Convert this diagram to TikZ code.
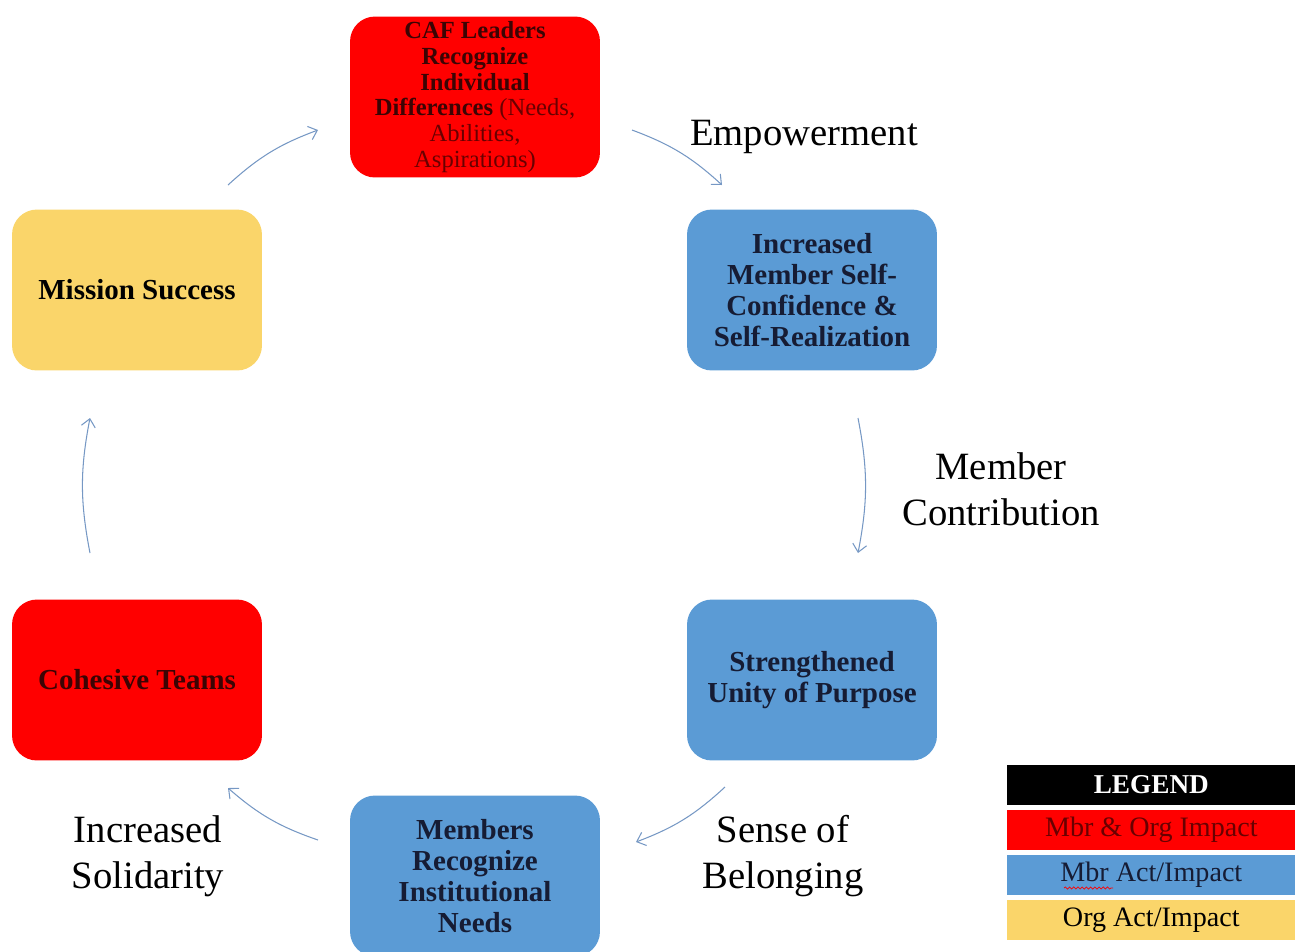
\documentclass[tikz,border=0pt]{standalone}
\usepackage{fontspec}
\setmainfont{Liberation Serif}
\usepackage{tikz}
\usetikzlibrary{arrows.meta,decorations.pathmorphing}

\tikzset{
  cycbox/.style={rounded corners=0.5cm, minimum width=5cm, minimum height=3.22cm, align=center, inner sep=2pt, font=\bfseries\fontsize{16.5}{17.6}\selectfont},
  cycarrow/.style={-{Straight Barb[length=4.5pt,width=8pt]}, color=arrowColor, line width=0.6pt, bend left=11},
  cyclabel/.style={align=center, font=\fontsize{22}{26}\selectfont},
  legrow/.style={minimum width=5.76cm, minimum height=0.8cm, inner sep=0pt, anchor=west, font=\fontsize{16}{18}\selectfont},
  spellmark/.style={color=red, line width=0.4pt, decorate, decoration={snake, amplitude=0.6pt, segment length=2.4pt}},
}

\begin{document}
\begin{tikzpicture}[x=0.02cm,y=-0.02cm]
\useasboundingbox (0,0) rectangle (1295,951);
\definecolor{redColor}{RGB}{255,0,0}
\definecolor{blueColor}{RGB}{91,155,213}
\definecolor{goldColor}{RGB}{250,213,106}
\definecolor{navyText}{RGB}{22,28,52}
\definecolor{darkRedText}{RGB}{60,4,4}
\definecolor{capColor}{RGB}{105,0,0}
\definecolor{arrowColor}{RGB}{118,152,196}
% cycle boxes
\node[cycbox, fill=redColor, text=darkRedText, font=\bfseries\fontsize{14}{14.7}\selectfont] (caf) at (475,97)
  {CAF Leaders\\ Recognize\\ Individual\\ Differences \textmd{\textcolor{capColor}{(Needs,}}\\ \textmd{\textcolor{capColor}{Abilities,}}\\ \textmd{\textcolor{capColor}{Aspirations)}}};
\node[cycbox, fill=blueColor, text=navyText] (confidence) at (812,290) {Increased\\ Member Self-\\ Confidence \&\\ Self-Realization};
\node[cycbox, fill=blueColor, text=navyText] (unity) at (812,680) {Strengthened\\ Unity of Purpose};
\node[cycbox, fill=blueColor, text=navyText] (needs) at (475,876) {Members\\ Recognize\\ Institutional\\ Needs};
\node[cycbox, fill=redColor, text=darkRedText] (teams) at (137,680) {Cohesive Teams};
\node[cycbox, fill=goldColor, text=black] (mission) at (137,290) {Mission Success};
% arrow ends
\coordinate (a1s) at (632,130); \coordinate (a1e) at (722,185);
\coordinate (a2s) at (858,418); \coordinate (a2e) at (858,553);
\coordinate (a3s) at (725,787); \coordinate (a3e) at (636,842);
\coordinate (a4s) at (318,840); \coordinate (a4e) at (228,788);
\coordinate (a5s) at (90,553);  \coordinate (a5e) at (90,418);
\coordinate (a6s) at (228,185); \coordinate (a6e) at (318,130);
\foreach \i in {1,...,6}
  \draw[cycarrow] (a\i s) to (a\i e);
% labels
\node[cyclabel] (empower) at (804,137) {Empowerment};
\node[cyclabel] (contrib) at (1001,489) {Member\\ Contribution};
\node[cyclabel] (belong) at (783,856) {Sense of\\ Belonging};
\node[cyclabel] (solid) at (148,856) {Increased\\ Solidarity};
% legend
\node[legrow, fill=black, text=white, font=\bfseries\fontsize{15.5}{18}\selectfont] (legend) at (1007,785) {LEGEND};
\node[legrow, fill=redColor, text=capColor] (legred) at (1007,830) {Mbr \& Org Impact};
\node[legrow, fill=blueColor, text=navyText] (legblue) at (1007,875) {Mbr Act/Impact};
\node[legrow, fill=goldColor, text=black] (leggold) at (1007,920) {Org Act/Impact};
\draw[spellmark] (1048,843) -- (1098,843);
\draw[spellmark] (1064,888) -- (1113,888);
\end{tikzpicture}
\end{document}
